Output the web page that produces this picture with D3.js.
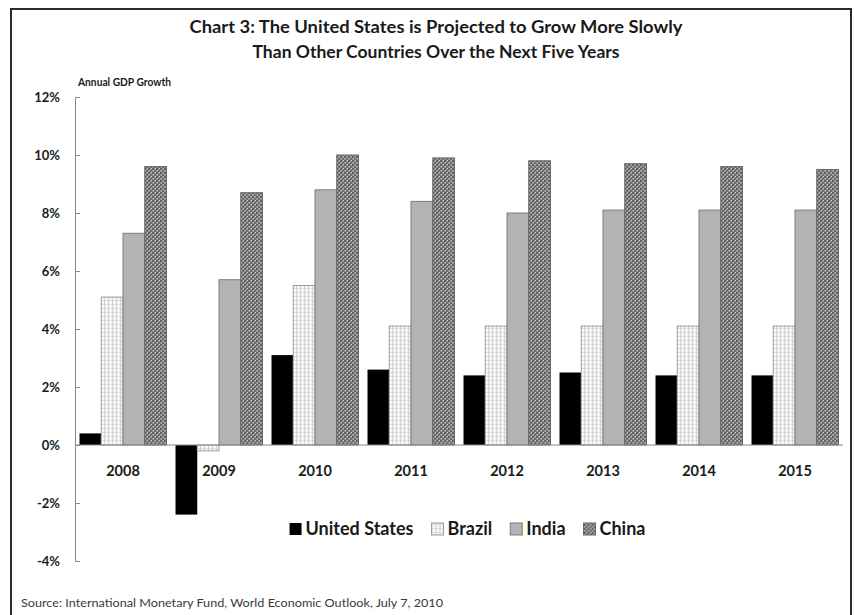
<!DOCTYPE html>
<html>
<head>
<meta charset="utf-8">
<script src="https://cdn.jsdelivr.net/npm/d3@7"></script>
<style>
  html, body { margin: 0; padding: 0; background: #fff; }
  svg { display: block; font-family: Lato, "Open Sans", "DejaVu Sans", sans-serif; }
</style>
</head>
<body>
<svg id="chart" width="854" height="615"></svg>
<script>
// Annual real GDP growth, %, by year
const years = ["2008", "2009", "2010", "2011", "2012", "2013", "2014", "2015"];
const seriesNames = ["United States", "Brazil", "India", "China"];
const unitedStates = [0.4, -2.4, 3.1, 2.6, 2.4, 2.5, 2.4, 2.4];
const brazil       = [5.1, -0.2, 5.5, 4.1, 4.1, 4.1, 4.1, 4.1];
const india        = [7.3, 5.7, 8.8, 8.4, 8.0, 8.1, 8.1, 8.1];
const china        = [9.6, 8.7, 10.0, 9.9, 9.8, 9.7, 9.6, 9.5];
const yTicks = [-4, -2, 0, 2, 4, 6, 8, 10, 12];
const titleLines = [
  "Chart 3: The United States is Projected to Grow More Slowly",
  "Than Other Countries Over the Next Five Years"
];
const yAxisTitle = "Annual GDP Growth";
const sourceNote = "Source:  International Monetary Fund, World Economic Outlook, July 7, 2010";

const seriesValues = [unitedStates, brazil, india, china];
const rows = [];
years.forEach((yr, i) => {
  seriesNames.forEach((s, j) => rows.push({ year: yr, series: s, value: seriesValues[j][i] }));
});

const svg = d3.select("#chart");
const defs = svg.append("defs");

// Fill textures for the bars
const pBrazil = defs.append("pattern").attr("id", "pat-brazil")
  .attr("patternUnits", "userSpaceOnUse").attr("width", 4).attr("height", 4);
pBrazil.append("rect").attr("width", 4).attr("height", 4).attr("fill", "#f7f7f7");
pBrazil.append("rect").attr("x", 0).attr("y", 0).attr("width", 4).attr("height", 1).attr("fill", "#d2d2d2");
pBrazil.append("rect").attr("x", 0).attr("y", 0).attr("width", 1).attr("height", 4).attr("fill", "#d2d2d2");
pBrazil.append("rect").attr("x", 2).attr("y", 0).attr("width", 1).attr("height", 1).attr("fill", "#f2f2f2");

const pChina = defs.append("pattern").attr("id", "pat-china")
  .attr("patternUnits", "userSpaceOnUse").attr("width", 4).attr("height", 4);
pChina.append("rect").attr("width", 4).attr("height", 4).attr("fill", "#929292");
pChina.append("rect").attr("x", 0).attr("y", 0).attr("width", 2).attr("height", 2).attr("fill", "#626262");
pChina.append("rect").attr("x", 2).attr("y", 2).attr("width", 2).attr("height", 2).attr("fill", "#6e6e6e");
pChina.append("rect").attr("x", 3).attr("y", 0).attr("width", 1).attr("height", 1).attr("fill", "#c2c2c2");
pChina.append("rect").attr("x", 1).attr("y", 2).attr("width", 1).attr("height", 1).attr("fill", "#c2c2c2");

const fills = {
  "United States": "#000000",
  "Brazil": "url(#pat-brazil)",
  "India": "#b3b3b3",
  "China": "url(#pat-china)"
};
const strokes = {
  "United States": "none",
  "Brazil": "#9a9a9a",
  "India": "#7d7d7d",
  "China": "#676767"
};

// Outer frame
svg.append("rect")
  .attr("x", 11).attr("y", 9).attr("width", 840).attr("height", 640)
  .attr("fill", "none").attr("stroke", "#2a2a2a").attr("stroke-width", 2);

// Title
svg.append("g").selectAll("text").data(titleLines).join("text")
  .attr("x", 436).attr("y", (d, i) => 33 + i * 25)
  .attr("text-anchor", "middle")
  .attr("font-size", 16.5).attr("font-weight", 700).attr("fill", "#1a1a1a")
  .attr("textLength", (d, i) => i === 0 ? 493 : 367)
  .attr("lengthAdjust", "spacingAndGlyphs")
  .text(d => d);

// Scales
const x = d3.scaleBand().domain(years).range([75, 843]).paddingInner(0.094).paddingOuter(0.047);
const xs = d3.scaleBand().domain(seriesNames).range([0, x.bandwidth()]);
const y = d3.scaleLinear().domain([-4, 12]).range([561, 97]);

// Y axis
const yAxis = svg.append("g").attr("transform", "translate(75,0)")
  .call(d3.axisLeft(y).tickValues(yTicks).tickFormat(d => d + "%")
    .tickSize(-5).tickSizeOuter(0).tickPadding(15));
yAxis.select(".domain").attr("stroke", "#8a8a8a");
yAxis.selectAll(".tick line").attr("stroke", "#8a8a8a");
yAxis.selectAll(".tick text")
  .attr("font-family", "Lato, 'Open Sans', sans-serif")
  .attr("font-size", 13).attr("font-weight", 700).attr("fill", "#1a1a1a");

svg.append("text")
  .attr("x", 78).attr("y", 86)
  .attr("font-size", 11.5).attr("font-weight", 700).attr("fill", "#1a1a1a")
  .attr("textLength", 93).attr("lengthAdjust", "spacingAndGlyphs")
  .text(yAxisTitle);

// Bars
svg.append("g").selectAll("rect").data(rows).join("rect")
  .attr("x", d => x(d.year) + xs(d.series))
  .attr("width", xs.bandwidth())
  .attr("y", d => y(Math.max(0, d.value)))
  .attr("height", d => Math.abs(y(d.value) - y(0)))
  .attr("fill", d => fills[d.series])
  .attr("stroke", d => strokes[d.series])
  .attr("stroke-width", 1);

// Zero baseline
svg.append("line")
  .attr("x1", 75).attr("x2", 843).attr("y1", y(0)).attr("y2", y(0))
  .attr("stroke", "#8a8a8a").attr("stroke-width", 1.2);

// Year labels just below the zero line
svg.append("g").selectAll("text").data(years).join("text")
  .attr("x", d => x(d) + x.bandwidth() / 2)
  .attr("y", 476)
  .attr("text-anchor", "middle")
  .attr("font-size", 14.5).attr("font-weight", 700).attr("fill", "#1a1a1a")
  .text(d => d);

// Legend
const legend = svg.append("g");
const legendItems = legend.selectAll("g").data(seriesNames).join("g");
legendItems.append("rect")
  .attr("width", 12).attr("height", 12).attr("y", 523)
  .attr("fill", d => fills[d])
  .attr("stroke", d => d === "United States" ? "none" : strokes[d]);
legendItems.append("text")
  .attr("x", 16).attr("y", 535)
  .attr("font-size", 18).attr("font-weight", 700).attr("fill", "#1a1a1a")
  .text(d => d);
let cursor = 0;
const offsets = [];
legendItems.each(function() {
  offsets.push(cursor);
  const w = d3.select(this).select("text").node().getComputedTextLength();
  cursor += 16 + w + 18;
});
const legendWidth = cursor - 18;
const legendStart = 467.5 - legendWidth / 2;
legendItems.attr("transform", (d, i) => `translate(${legendStart + offsets[i]},0)`);

// Source note
svg.append("text")
  .attr("x", 21).attr("y", 607)
  .attr("font-size", 12).attr("fill", "#3a3a3a")
  .attr("textLength", 422).attr("lengthAdjust", "spacingAndGlyphs")
  .text(sourceNote);
</script>
</body>
</html>
